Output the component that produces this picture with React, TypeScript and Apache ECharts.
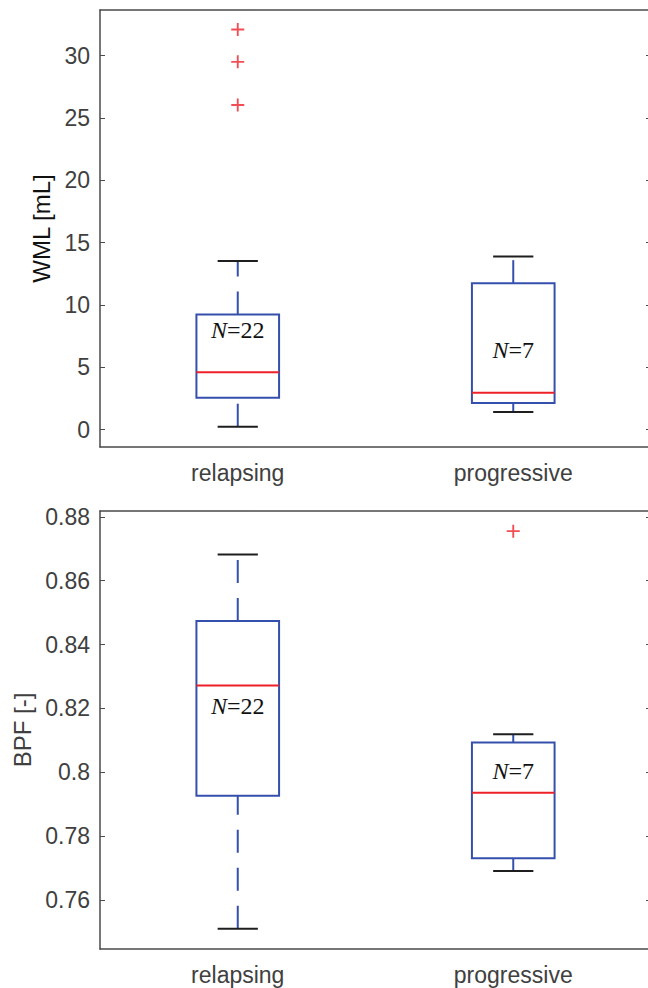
import React, { useEffect, useRef } from "react";
import * as echarts from "echarts";

const categories = ["relapsing", "progressive"];

// y-axis tick values and ranges
const wmlTicks = [0, 5, 10, 15, 20, 25, 30];
const bpfTicks = [0.76, 0.78, 0.8, 0.82, 0.84, 0.86, 0.88];
const wmlRange = [-1.39, 33.66];
const bpfRange = [0.7447, 0.8818];

// [lowerWhisker, q1, median, q3, upperWhisker]
const wmlRelapsing = [0.24, 2.56, 4.6, 9.24, 13.52];
const wmlProgressive = [1.42, 2.14, 2.96, 11.75, 13.89];
const bpfRelapsing = [0.751, 0.7927, 0.8272, 0.8474, 0.8682];
const bpfProgressive = [0.7691, 0.7731, 0.7936, 0.8093, 0.8119];

// outliers: [category index, value]
const wmlOutliers = [
  [0, 26.04],
  [0, 29.5],
  [0, 32.1],
];
const bpfOutliers = [[1, 0.8755]];

// group sizes and where their labels sit
const groupN = [22, 7];
const wmlLabelY = [8.0, 6.37];
const bpfLabelY = [0.8208, 0.8005];

const BLUE = "#3550AC";
const RED = "#EE2028";
const CAP = "#1e1e1e";
const AXIS = "#4a4a4a";
const TICKTXT = "#404040";
const SANS = "'Liberation Sans', Arial, Helvetica, sans-serif";
const SERIF = "'Liberation Serif', 'Times New Roman', serif";

function boxData(a: number[], b: number[], labels: number[]) {
  return [
    [0, ...a, labels[0], groupN[0]],
    [1, ...b, labels[1], groupN[1]],
  ];
}

function renderBox(params: any, api: any) {
  const x = api.value(0);
  const lo = api.value(1);
  const q1 = api.value(2);
  const med = api.value(3);
  const q3 = api.value(4);
  const hi = api.value(5);
  const labY = api.value(6);
  const n = api.value(7);
  const band = api.size([1, 0])[0];
  const half = band * 0.15;
  const capHalf = band * 0.073;
  const pLo = api.coord([x, lo]);
  const pQ1 = api.coord([x, q1]);
  const pMed = api.coord([x, med]);
  const pQ3 = api.coord([x, q3]);
  const pHi = api.coord([x, hi]);
  const pLab = api.coord([x, labY]);
  const cx = pMed[0];
  const dash = [23, 15];
  return {
    type: "group",
    children: [
      {
        type: "line",
        shape: { x1: cx, y1: pQ3[1], x2: cx, y2: pHi[1] },
        style: { stroke: BLUE, lineWidth: 2, lineDash: dash },
      },
      {
        type: "line",
        shape: { x1: cx, y1: pLo[1], x2: cx, y2: pQ1[1] },
        style: { stroke: BLUE, lineWidth: 2, lineDash: dash },
      },
      {
        type: "rect",
        shape: { x: cx - half, y: pQ3[1], width: 2 * half, height: pQ1[1] - pQ3[1] },
        style: { fill: "none", stroke: BLUE, lineWidth: 2 },
      },
      {
        type: "line",
        shape: { x1: cx - half, y1: pMed[1], x2: cx + half, y2: pMed[1] },
        style: { stroke: RED, lineWidth: 2 },
      },
      {
        type: "line",
        shape: { x1: cx - capHalf, y1: pHi[1], x2: cx + capHalf, y2: pHi[1] },
        style: { stroke: CAP, lineWidth: 2 },
      },
      {
        type: "line",
        shape: { x1: cx - capHalf, y1: pLo[1], x2: cx + capHalf, y2: pLo[1] },
        style: { stroke: CAP, lineWidth: 2 },
      },
      {
        type: "text",
        x: cx,
        y: pLab[1],
        style: {
          text: "{i|N}{r|=" + n + "}",
          fill: "#111",
          align: "center",
          verticalAlign: "middle",
          rich: {
            i: { fontStyle: "italic", fontFamily: SERIF, fontSize: 24, fill: "#111" },
            r: { fontFamily: SERIF, fontSize: 24, fill: "#111" },
          },
        },
      },
    ],
  };
}

const PLUS = "path://M6,0h2v6h6v2h-6v6h-2v-6h-6v-2h6z";

function xAxes(gridIndex: number) {
  return [
    {
      gridIndex,
      type: "category",
      data: categories,
      position: "bottom",
      axisLine: { onZero: false, lineStyle: { color: AXIS, width: 1.5 } },
      axisTick: { inside: true, alignWithLabel: true, length: 5, lineStyle: { color: AXIS } },
      axisLabel: { fontSize: 23, color: TICKTXT, fontFamily: SANS, margin: 14 },
      splitLine: { show: false },
    },
    {
      gridIndex,
      type: "category",
      data: categories,
      position: "top",
      axisLine: { onZero: false, lineStyle: { color: AXIS, width: 1.5 } },
      axisTick: { inside: true, alignWithLabel: true, length: 5, lineStyle: { color: AXIS } },
      axisLabel: { show: false },
      splitLine: { show: false },
    },
  ];
}

function yAxes(
  gridIndex: number,
  range: number[],
  ticks: number[],
  name: string,
  nameGap: number,
  nameColor: string
) {
  return [
    {
      gridIndex,
      type: "value",
      position: "left",
      min: range[0],
      max: range[1],
      name,
      nameLocation: "middle",
      nameGap,
      nameTextStyle: { fontSize: 24, fontFamily: SANS, color: nameColor },
      axisLine: { show: true, onZero: false, lineStyle: { color: AXIS, width: 1.5 } },
      axisTick: { show: true, inside: true, length: 5, customValues: ticks, lineStyle: { color: AXIS } },
      axisLabel: {
        customValues: ticks,
        fontSize: 23,
        color: TICKTXT,
        fontFamily: SANS,
        margin: 10,
        formatter: (v: number) => String(parseFloat(v.toFixed(4))),
      },
      splitLine: { show: false },
    },
    {
      gridIndex,
      type: "value",
      position: "right",
      min: range[0],
      max: range[1],
      axisLine: { show: true, onZero: false, lineStyle: { color: AXIS, width: 1.5 } },
      axisTick: { show: true, inside: true, length: 5, customValues: ticks, lineStyle: { color: AXIS } },
      axisLabel: { show: false },
      splitLine: { show: false },
    },
  ];
}

export default function App() {
  const ref = useRef<HTMLDivElement>(null);
  useEffect(() => {
    if (!ref.current) return;
    const chart = echarts.init(ref.current, undefined, { renderer: "svg" });
    const option: any = {
      animation: false,
      backgroundColor: "#ffffff",
      grid: [
        { left: 100, top: 10, width: 551, height: 437, outerBoundsMode: "none", containLabel: false },
        { left: 100, top: 511, width: 551, height: 438, outerBoundsMode: "none", containLabel: false },
      ],
      xAxis: [...xAxes(0), ...xAxes(1)],
      yAxis: [
        ...yAxes(0, wmlRange, wmlTicks, "WML [mL]", 46, "#111"),
        ...yAxes(1, bpfRange, bpfTicks, "BPF [-]", 66, TICKTXT),
      ],
      series: [
        {
          type: "custom",
          xAxisIndex: 0,
          yAxisIndex: 0,
          renderItem: renderBox,
          data: boxData(wmlRelapsing, wmlProgressive, wmlLabelY),
          encode: { x: 0, y: [1, 2, 3, 4, 5] },
          clip: false,
        },
        {
          type: "scatter",
          xAxisIndex: 0,
          yAxisIndex: 0,
          symbol: PLUS,
          symbolSize: 13,
          itemStyle: { color: RED },
          data: wmlOutliers,
        },
        {
          type: "custom",
          xAxisIndex: 2,
          yAxisIndex: 2,
          renderItem: renderBox,
          data: boxData(bpfRelapsing, bpfProgressive, bpfLabelY),
          encode: { x: 0, y: [1, 2, 3, 4, 5] },
          clip: false,
        },
        {
          type: "scatter",
          xAxisIndex: 2,
          yAxisIndex: 2,
          symbol: PLUS,
          symbolSize: 13,
          itemStyle: { color: RED },
          data: bpfOutliers,
        },
      ],
    };
    chart.setOption(option);
    return () => chart.dispose();
  }, []);
  return (
    <div
      ref={ref}
      style={{ position: "fixed", left: 0, top: 0, width: 648, height: 988, background: "#fff" }}
    />
  );
}
